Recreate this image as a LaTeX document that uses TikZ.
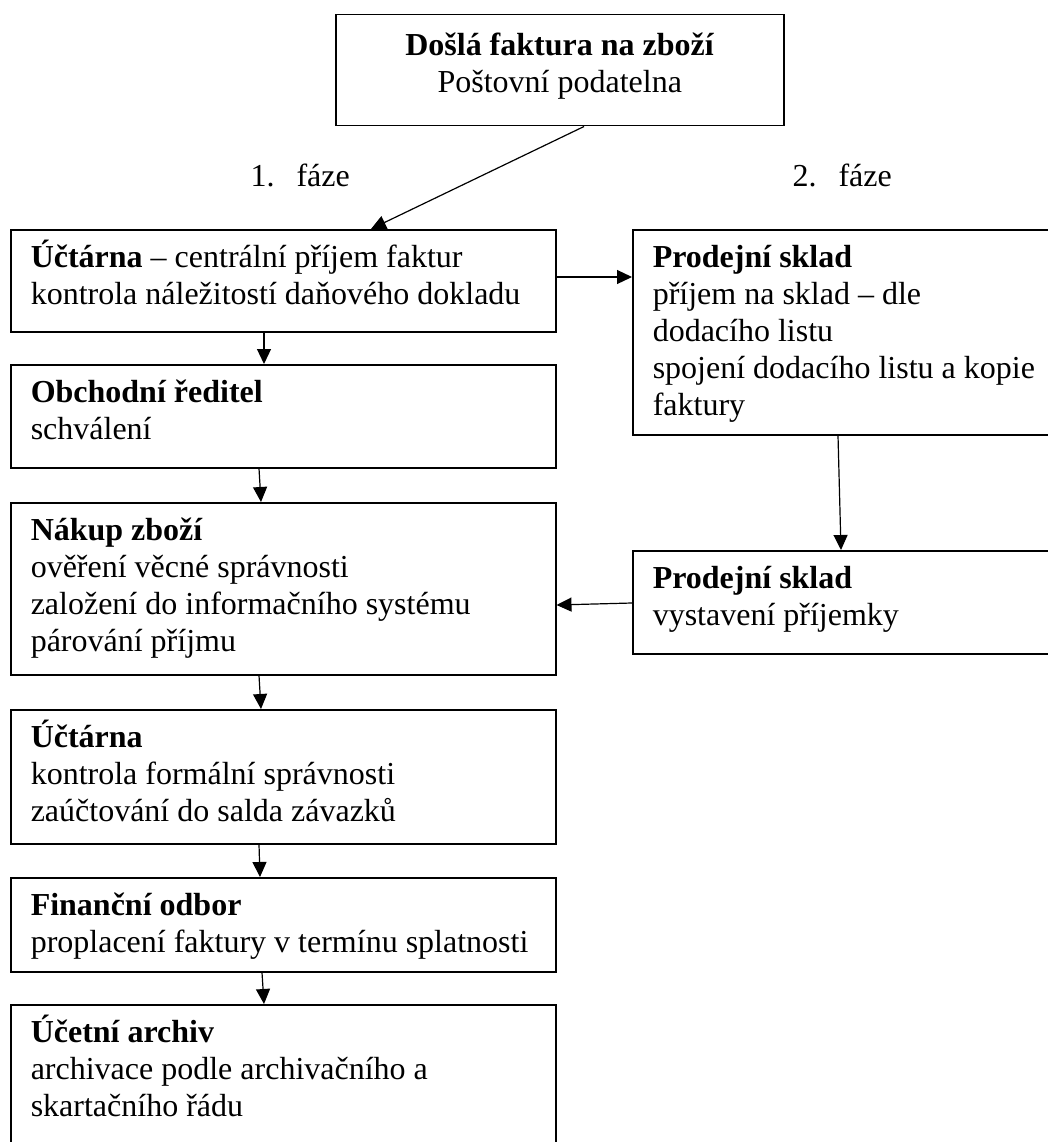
\documentclass[tikz,border=0pt]{standalone}
\usepackage{fontspec}
\setmainfont{Liberation Serif}
\usetikzlibrary{positioning}
\usetikzlibrary{arrows.meta}

\newcommand{\stagetext}[3]{\parbox[t][#2][t]{#1}{\raggedright\rule{0pt}{38pt}#3}}

\tikzset{
  stage/.style={draw, rectangle, line width=1.5pt, anchor=north west, inner xsep=20pt, inner ysep=0pt},
  flow/.style={-{Triangle[length=15pt,width=14pt]}, line width=1.2pt}
}

\begin{document}
\begin{tikzpicture}[x=1pt, y=-1pt, font=\fontsize{32}{37}\selectfont]
            % Invoice flow through the departments
            \useasboundingbox (0,0) rectangle (1048,1142);
            \clip (0,0) rectangle (1048,1142);

            \node[stage] (dosla) at (335,14) {\parbox[t][111pt][t]{408pt}{\centering\rule{0pt}{41pt}\textbf{Došlá faktura na zboží}\\Poštovní podatelna}};

            \node[anchor=base west] (faze1) at (247,186) {1.\hspace{22pt}fáze};
            \node[anchor=base west] (faze2) at (789,186) {2.\hspace{22pt}fáze};

            \node[stage] (uctarna1) at (10,229) {\stagetext{505pt}{102pt}{\textbf{Účtárna} – centrální příjem faktur\\kontrola náležitostí daňového dokladu}};
            \node[stage] (reditel) at (10,364) {\stagetext{505pt}{103pt}{\textbf{Obchodní ředitel}\\schválení}};
            \node[stage] (nakup) at (10,502) {\stagetext{505pt}{172pt}{\textbf{Nákup zboží}\\ověření věcné správnosti\\založení do informačního systému\\párování příjmu}};
            \node[stage] (uctarna2) at (10,709) {\stagetext{505pt}{134pt}{\textbf{Účtárna}\\kontrola formální správnosti\\zaúčtování do salda závazků}};
            \node[stage] (financni) at (10,877) {\stagetext{505pt}{94pt}{\textbf{Finanční odbor}\\proplacení faktury v termínu splatnosti}};
            \node[stage] (archiv) at (10,1004) {\stagetext{505pt}{160pt}{\textbf{Účetní archiv}\\archivace podle archivačního a\\skartačního řádu}};

            \node[stage] (sklad1) at (632,229) {\stagetext{400pt}{205pt}{\textbf{Prodejní sklad}\\příjem na sklad – dle\\dodacího listu\\spojení dodacího listu a kopie\\faktury}};
            \node[stage] (sklad2) at (632,550) {\stagetext{400pt}{103pt}{\textbf{Prodejní sklad}\\vystavení příjemky}};

            \draw[flow] ([xshift=249pt]dosla.south west) -- ([xshift=361pt]uctarna1.north west);
            \draw[flow] ([yshift=-48pt]uctarna1.north east) -- ([yshift=-48pt]sklad1.north west);
            \draw[flow] ([xshift=254pt]uctarna1.south west) -- ([xshift=254pt]reditel.north west);
            \draw[flow] ([xshift=249pt]reditel.south west) -- ([xshift=251pt]nakup.north west);
            \draw[flow] ([xshift=206pt]sklad1.south west) -- ([xshift=209pt]sklad2.north west);
            \draw[flow] ([yshift=-53pt]sklad2.north west) -- ([yshift=-103pt]nakup.north east);
            \draw[flow] ([xshift=249pt]nakup.south west) -- ([xshift=251pt]uctarna2.north west);
            \draw[flow] ([xshift=249pt]uctarna2.south west) -- ([xshift=250pt]financni.north west);
            \draw[flow] ([xshift=252pt]financni.south west) -- ([xshift=254pt]archiv.north west);
        \end{tikzpicture}
\end{document}
